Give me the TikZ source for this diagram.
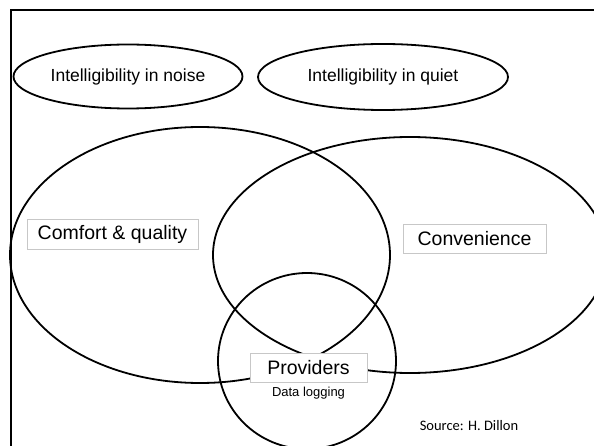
\documentclass[tikz,border=0pt]{standalone}
\usepackage{fontspec}
\setmainfont{Liberation Sans}
\newfontfamily\srcfont{Carlito}
\usetikzlibrary{shapes.geometric}
\begin{document}
\begin{tikzpicture}[x=1pt,y=-1pt,
  ring/.style={draw=black, line width=1.8pt, ellipse, inner sep=0pt},
  labelbox/.style={draw=black!22, line width=0.7pt, fill=white, inner sep=0pt, font=\fontsize{19.5}{22}\selectfont},
  smalltext/.style={font=\fontsize{17.5}{20}\selectfont}]
\useasboundingbox (0,0) rectangle (594,446);
\clip (0,0) rectangle (594,446);
\fill[white] (0,0) rectangle (594,446);
% frame
\draw[line width=2.4pt] (11,480) -- (11,10) -- (640,10);
% top ellipses
\node[ring, minimum width=229pt, minimum height=64pt, smalltext] (noise) at (128,76.5) {Intelligibility in noise};
\node[ring, minimum width=250pt, minimum height=66pt, smalltext] (quiet) at (383,77) {Intelligibility in quiet};
% big ellipses
\node[ring, minimum width=380pt, minimum height=256pt] (comfortE) at (200,255) {};
\node[ring, minimum width=394pt, minimum height=236pt] (convE) at (410,255) {};
\node[ring, minimum width=178pt, minimum height=176pt] (provE) at (307,361) {};
% labels
\node[labelbox, minimum width=171pt, minimum height=30pt] (comfort) at (112.5,234) {Comfort \& quality};
\node[labelbox, minimum width=143pt, minimum height=29pt] (conv) at (474.5,238.5) {Convenience};
\node[labelbox, minimum width=117pt, minimum height=29pt] (prov) at (308.5,367.5) {Providers};
\node[inner sep=0pt, font=\fontsize{13}{15}\selectfont] (datalog) at (308.5,393) {Data logging};
\node[inner sep=0pt, font=\srcfont\fontsize{14.5}{17}\selectfont] (source) at (469,426) {Source: H. Dillon};
\end{tikzpicture}
\end{document}
